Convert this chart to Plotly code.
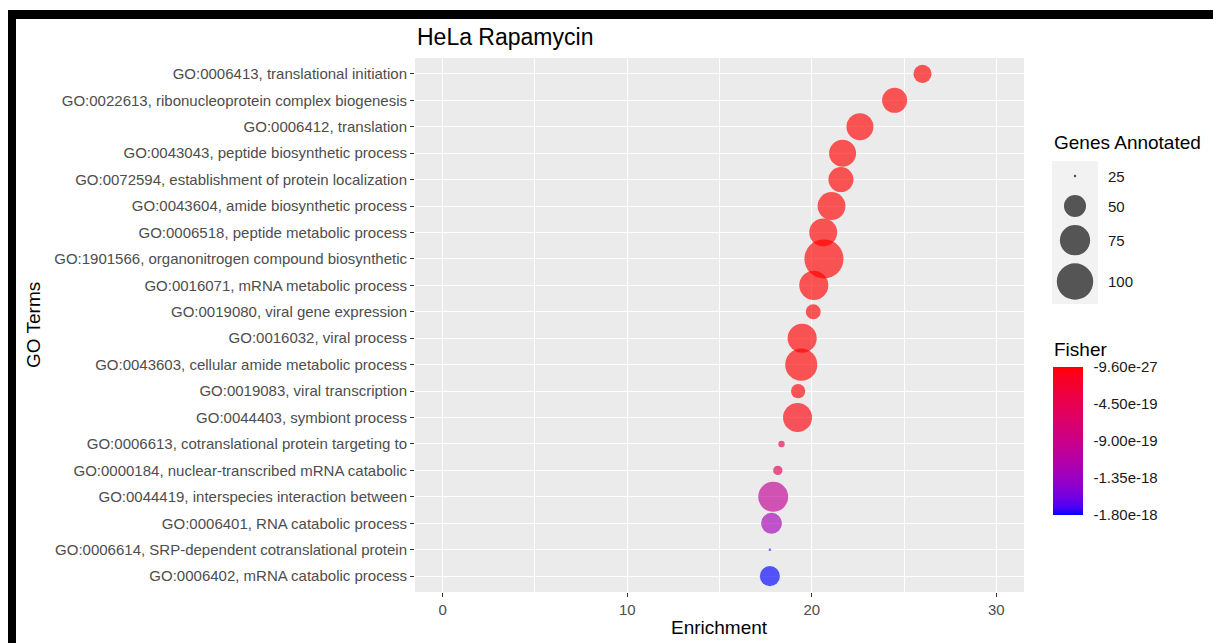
import plotly.graph_objects as go
import numpy as np

# ---------------- data ----------------
go_terms = [
    "GO:0006413, translational initiation",
    "GO:0022613, ribonucleoprotein complex biogenesis",
    "GO:0006412, translation",
    "GO:0043043, peptide biosynthetic process",
    "GO:0072594, establishment of protein localization",
    "GO:0043604, amide biosynthetic process",
    "GO:0006518, peptide metabolic process",
    "GO:1901566, organonitrogen compound biosynthetic",
    "GO:0016071, mRNA metabolic process",
    "GO:0019080, viral gene expression",
    "GO:0016032, viral process",
    "GO:0043603, cellular amide metabolic process",
    "GO:0019083, viral transcription",
    "GO:0044403, symbiont process",
    "GO:0006613, cotranslational protein targeting to",
    "GO:0000184, nuclear-transcribed mRNA catabolic",
    "GO:0044419, interspecies interaction between",
    "GO:0006401, RNA catabolic process",
    "GO:0006614, SRP-dependent cotranslational protein",
    "GO:0006402, mRNA catabolic process",
]
enrichment = [26.00, 24.49, 22.61, 21.67, 21.58, 21.07, 20.62, 20.66, 20.11, 20.08,
              19.48, 19.43, 19.26, 19.23, 18.36, 18.16, 17.91, 17.82, 17.73, 17.73]
genes_annotated = [41, 58, 64, 64, 58, 67, 67, 112, 71, 35,
                   71, 82, 34, 71, 26, 28, 74, 47, 25, 45]
fisher = [-9.6e-27, -3.1e-26, -2.4e-25, -1.1e-24, -4.0e-25, -6.2e-24, -2.9e-23, -1.5e-22,
          -3.3e-22, -8.0e-22, -2.6e-21, -7.4e-21, -1.9e-20, -4.2e-20,
          -4.5e-19, -5.0e-19, -1.0e-18, -1.26e-18, -1.7e-18, -1.8e-18]

size_legend_values = [25, 50, 75, 100]
fisher_breaks = [-9.60e-27, -4.50e-19, -9.00e-19, -1.35e-18, -1.80e-18]
fisher_break_labels = ["-9.60e-27", "-4.50e-19", "-9.00e-19", "-1.35e-18", "-1.80e-18"]
x_ticks = [0, 10, 20, 30]
x_limits = [0, 30]

# ---------------- helpers ----------------
W, H = 1213, 643
ML, MR, MT, MB = 415, 0, 58, 51
PW = W - ML - MR
PH = H - MT - MB
PANEL_R = 1024
CB_TOP, CB_BOT, CB_L, CB_W = 367, 515, 1053, 30


def px2x(px):
    return (px - ML) / PW


def px2y(py):
    return (H - MB - py) / PH


def diam(v):
    return 2.5 + 3.92 * np.sqrt(max(v - 25, 0))


def srgb2lab(c):
    c = np.array(c) / 255.0
    c = np.where(c > 0.04045, ((c + 0.055) / 1.055) ** 2.4, c / 12.92)
    M = np.array([[0.4124, 0.3576, 0.1805], [0.2126, 0.7152, 0.0722], [0.0193, 0.1192, 0.9505]])
    xyz = M @ c / np.array([0.95047, 1.0, 1.08883])
    f = np.where(xyz > 0.008856, np.cbrt(xyz), 7.787 * xyz + 16 / 116)
    return np.array([116 * f[1] - 16, 500 * (f[0] - f[1]), 200 * (f[1] - f[2])])


def lab2srgb(lab):
    L, a, b = lab
    fy = (L + 16) / 116
    fx = fy + a / 500
    fz = fy - b / 200
    f = np.array([fx, fy, fz])
    xyz = np.where(f ** 3 > 0.008856, f ** 3, (f - 16 / 116) / 7.787) * np.array([0.95047, 1.0, 1.08883])
    Mi = np.array([[3.2406, -1.5372, -0.4986], [-0.9689, 1.8758, 0.0415], [0.0557, -0.2040, 1.0570]])
    c = Mi @ xyz
    c = np.where(c > 0.0031308, 1.055 * np.clip(c, 0, None) ** (1 / 2.4) - 0.055, 12.92 * c)
    c = np.clip(c, 0, 1) * 255
    return "rgb(%d,%d,%d)" % tuple(np.round(c).astype(int))


lab_lo = srgb2lab([0, 0, 255])
lab_hi = srgb2lab([255, 0, 0])
colorscale = [[t, lab2srgb(lab_lo + (lab_hi - lab_lo) * t)] for t in np.linspace(0, 1, 21)]

FONT = "Liberation Sans, Arial, sans-serif"
cmin, cmax = min(fisher_breaks), max(fisher_breaks)

fig = go.Figure()

fig.add_trace(go.Scatter(
    x=enrichment,
    y=go_terms,
    mode="markers",
    marker=dict(
        size=[diam(v) for v in genes_annotated],
        color=fisher,
        colorscale=colorscale,
        cmin=cmin,
        cmax=cmax,
        opacity=0.65,
        line=dict(width=0),
        colorbar=dict(
            x=px2x(CB_L), xanchor="left", xpad=0,
            y=px2y((CB_TOP + CB_BOT) / 2), yanchor="middle", ypad=0,
            len=CB_BOT - CB_TOP, lenmode="pixels", thickness=CB_W,
            outlinewidth=0,
            tickvals=fisher_breaks, ticktext=fisher_break_labels,
            ticks="outside", ticklen=8, tickcolor="rgba(0,0,0,0)", tickwidth=1,
            tickfont=dict(size=15, color="#1a1a1a", family=FONT),
        ),
    ),
    showlegend=False,
    hoverinfo="x+y",
))

# size legend in its own small axis
key_d = [diam(v) for v in size_legend_values]
key_h = [max(d + 8, 30) for d in key_d]
centers = list(np.cumsum(key_h) - np.array(key_h) / 2)
total_h = float(sum(key_h))
fig.add_trace(go.Scatter(
    x=[0.5] * len(size_legend_values),
    y=centers,
    mode="markers",
    marker=dict(size=key_d, color="black", opacity=0.65, line=dict(width=0)),
    xaxis="x2", yaxis="y2",
    showlegend=False, hoverinfo="skip",
))

leg_top, leg_bot = 161, 161 + total_h
pad = (x_limits[1] - x_limits[0]) * 0.05

shapes = [
    dict(type="rect", xref="x2 domain", yref="y2 domain", x0=0, x1=1, y0=0, y1=1,
         fillcolor="#F2F2F2", line=dict(width=0), layer="below"),
    dict(type="rect", xref="paper", yref="paper",
         x0=px2x(8), x1=px2x(W), y0=px2y(19), y1=px2y(10),
         fillcolor="black", line=dict(width=0)),
    dict(type="rect", xref="paper", yref="paper",
         x0=px2x(8), x1=px2x(16), y0=px2y(H), y1=px2y(10),
         fillcolor="black", line=dict(width=0)),
]
# white tick marks on both sides of the colour bar (interior breaks)
for v in fisher_breaks:
    if v in (cmin, cmax):
        continue
    py = CB_BOT - (v - cmin) / (cmax - cmin) * (CB_BOT - CB_TOP)
    for xa, xb in ((CB_L, CB_L + 6), (CB_L + CB_W - 6, CB_L + CB_W)):
        shapes.append(dict(type="line", xref="paper", yref="paper",
                           x0=px2x(xa), x1=px2x(xb), y0=px2y(py), y1=px2y(py),
                           line=dict(color="white", width=1)))

fig.update_layout(
    width=W, height=H,
    margin=dict(l=ML, r=MR, t=MT, b=MB),
    paper_bgcolor="white",
    plot_bgcolor="#EBEBEB",
    font=dict(family=FONT, color="#4d4d4d", size=15),
    xaxis=dict(
        domain=[0, px2x(PANEL_R)],
        range=[x_limits[0] - pad, x_limits[1] + pad],
        tickvals=x_ticks,
        ticks="outside", ticklen=4, tickcolor="#333333", tickwidth=1,
        showgrid=True, gridcolor="white", gridwidth=1.4,
        minor=dict(dtick=5, tick0=0, showgrid=True, gridcolor="white", gridwidth=0.6, ticks=""),
        zeroline=False, showline=False,
        tickfont=dict(size=15, color="#4d4d4d"),
    ),
    yaxis=dict(
        type="category",
        categoryorder="array", categoryarray=go_terms,
        range=[len(go_terms) - 0.4, -0.6],
        ticks="outside", ticklen=4, tickcolor="#333333", tickwidth=1,
        showgrid=True, gridcolor="white", gridwidth=1.4,
        zeroline=False, showline=False,
        tickfont=dict(size=15, color="#4d4d4d"),
    ),
    xaxis2=dict(
        domain=[px2x(1052), px2x(1098)], range=[0, 1], anchor="y2",
        visible=False, fixedrange=True,
    ),
    yaxis2=dict(
        domain=[px2y(leg_bot), px2y(leg_top)], range=[total_h, 0], anchor="x2",
        visible=False, fixedrange=True,
    ),
    shapes=shapes,
)

annotations = [
    dict(text="HeLa Rapamycin", x=px2x(415), y=px2y(37), xref="paper", yref="paper",
         xanchor="left", yanchor="middle", showarrow=False,
         font=dict(size=23, color="black")),
    dict(text="Enrichment", x=px2x((ML + PANEL_R) / 2), y=px2y(627), xref="paper", yref="paper",
         xanchor="center", yanchor="middle", showarrow=False,
         font=dict(size=19, color="black")),
    dict(text="GO Terms", x=px2x(33), y=px2y((MT + H - MB) / 2), xref="paper", yref="paper",
         xanchor="center", yanchor="middle", showarrow=False, textangle=-90,
         font=dict(size=19, color="black")),
    dict(text="Genes Annotated", x=px2x(1052), y=px2y(143), xref="paper", yref="paper",
         xanchor="left", yanchor="middle", showarrow=False,
         font=dict(size=19, color="black")),
    dict(text="Fisher", x=px2x(1052), y=px2y(349), xref="paper", yref="paper",
         xanchor="left", yanchor="middle", showarrow=False,
         font=dict(size=19, color="black")),
]
for v, c in zip(size_legend_values, centers):
    annotations.append(dict(text=str(v), x=px2x(1106), y=c, xref="paper", yref="y2",
                            xanchor="left", yanchor="middle", showarrow=False,
                            font=dict(size=15, color="#1a1a1a")))
fig.update_layout(annotations=annotations)

fig.write_html("out.html")
